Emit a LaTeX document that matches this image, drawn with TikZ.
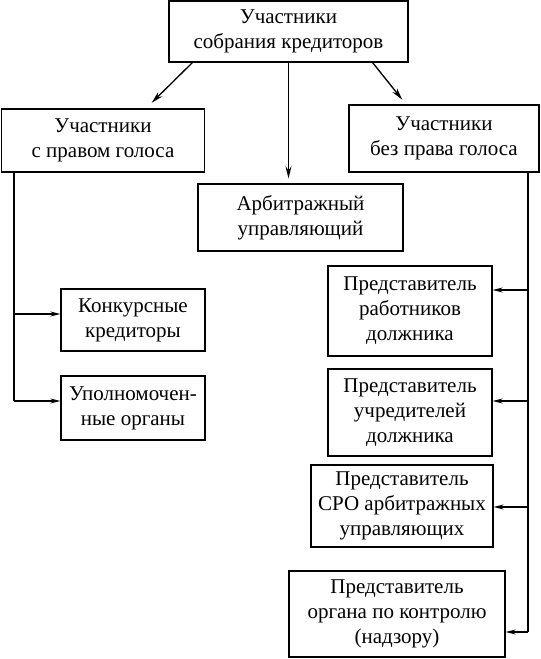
\documentclass[tikz,border=0pt]{standalone}
\usepackage{fontspec}
\setmainfont{Liberation Serif}
\usetikzlibrary{arrows.meta, positioning, calc}

\begin{document}
\begin{tikzpicture}[
    x=1pt, y=-1pt,
    every node/.style={font=\fontsize{21}{25}\selectfont, align=center, inner sep=0pt},
    box/.style={draw, line width=1.3pt},
    link/.style={draw, line width=1.3pt},
    arr/.style={link, -{Stealth[length=12pt, width=6pt]}},
    sidearr/.style={link, -{Stealth[length=10pt, width=5pt]}}
]
\useasboundingbox (0,0) rectangle (541,659);

% Top level
\node[box, minimum width=239pt, minimum height=61pt] (meeting) at (288.5,31.5) {Участники\\собрания кредиторов};

\node[box, minimum width=203pt, minimum height=63pt] (vote) at (103,140.5) {Участники\\с правом голоса};
\node[box, minimum width=190pt, minimum height=67pt] (novote) at (444,138.5) {Участники\\без права голоса};
\node[box, minimum width=205pt, minimum height=67pt] (arb) at (300.5,217.5) {Арбитражный\\управляющий};

% Left group
\node[box, minimum width=144pt, minimum height=62pt] (konk) at (133,320) {Конкурсные\\кредиторы};
\node[box, minimum width=144pt, minimum height=64pt] (upoln) at (133,408) {Уполномочен-\\ные органы};

% Right group
\node[box, minimum width=164pt, minimum height=90pt] (rab) at (410,311) {Представитель\\работников\\должника};
\node[box, minimum width=164pt, minimum height=87pt] (uchr) at (410,412.5) {Представитель\\учредителей\\должника};
\node[box, minimum width=182pt, minimum height=82pt] (sro) at (402,506) {Представитель\\СРО арбитражных\\управляющих};
\node[box, minimum width=216pt, minimum height=86pt] (nadz) at (397,614) {Представитель\\органа по контролю\\(надзору)};

% Arrows from the top box
\draw[arr, shorten >=8pt] ([xshift=24pt]meeting.south west) -- ([xshift=43pt]vote.north);
\draw[arr, shorten >=5pt] (meeting.south) -- (meeting.south |- arb.north);
\draw[arr, shorten >=6pt] ([xshift=-36pt]meeting.south east) -- ([xshift=-38pt]novote.north);

% Left trunk
\coordinate (l1) at (14,314);
\coordinate (l2) at (14,401);
\draw[link] (vote.south -| l1) -- (l2);
\draw[sidearr] (l1) -- (l1 -| konk.west);
\draw[sidearr] (l2) -- (l2 -| upoln.west);

% Right trunk
\coordinate (r1) at (528,290);
\coordinate (r2) at (528,401);
\coordinate (r3) at (528,507);
\coordinate (r4) at (528,632);
\draw[link] (novote.south -| r1) -- (r4);
\draw[sidearr] (r1) -- (r1 -| rab.east);
\draw[sidearr] (r2) -- (r2 -| uchr.east);
\draw[sidearr] (r3) -- (r3 -| sro.east);
\draw[sidearr] (r4) -- (r4 -| nadz.east);

\end{tikzpicture}
\end{document}
